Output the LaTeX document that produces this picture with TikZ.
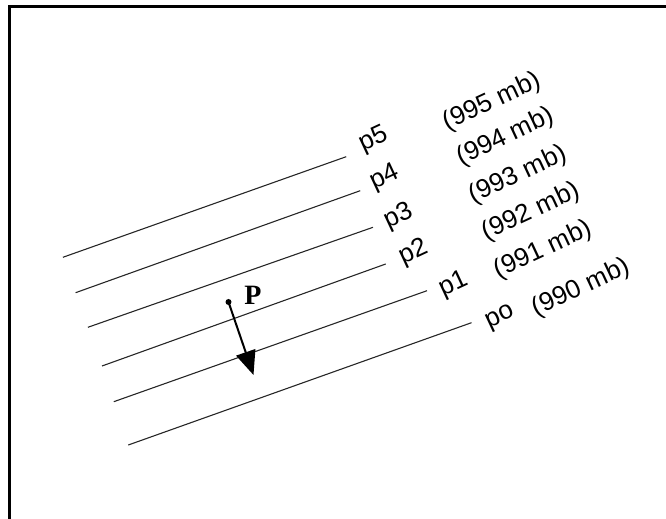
\documentclass[tikz,border=0pt]{standalone}
\usepackage{fontspec}
\setmainfont{Liberation Sans}
\newfontfamily\pserif{Liberation Serif}
\usepackage{tikz}
\usetikzlibrary{arrows.meta}
\tikzset{
  isobar/.style={line width=0.55pt, draw=black!85},
  lev/.style={font=\fontsize{13}{13}\selectfont, rotate=25, inner sep=0pt},
  frame/.style={line width=1.2pt, draw=black},
  motion/.style={-{Triangle[length=12pt,width=10pt]}, line width=1pt},
}

\begin{document}
\begin{tikzpicture}[x=0.5pt,y=-0.5pt]
  \useasboundingbox (0,0) rectangle (666,519);
  \draw[frame] (9.5,519) -- (9.5,6.5) -- (666,6.5);
  % isobars with their labels
  \foreach \sx/\sy/\ex/\ey/\lx/\ly/\nm/\vx/\vy/\val in {
      62.9/257.3/346.2/156.7/374/140/p5/492/102/995,
      75.6/292.7/360.2/190.7/384.5/178/p4/505.5/137/994,
      87.9/327.3/373/227.3/399/217/p3/518/175/993,
      102/366/385.7/264/414/253/p2/531/212/992,
      113.8/401.7/427/290.7/454/285/p1/543/250/991,
      128.3/445/471.5/322.7/501/318/po/581/288/990}
  {
    \draw[isobar] (\sx,\sy) -- (\ex,\ey);
    \node[lev] (lab-\nm) at (\lx,\ly) {\nm};
    \node[lev] (val-\nm) at (\vx,\vy) {(\val\ mb)};
  }
  % parcel and its motion
  \coordinate (dotP) at (228.5,302);
  \coordinate (tipP) at (253.5,375);
  \fill (dotP) circle (3);
  \node[font=\pserif\bfseries\fontsize{14}{14}\selectfont, inner sep=0pt] (labP) at (253,295) {P};
  \draw[motion] (dotP) -- (tipP);
\end{tikzpicture}
\end{document}
